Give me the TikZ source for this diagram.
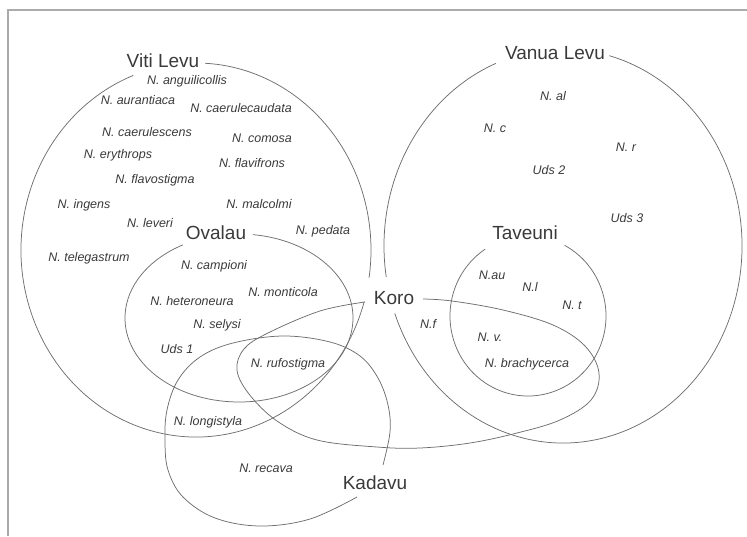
\documentclass[tikz,border=0pt]{standalone}
\usepackage{fontspec}
\setmainfont{Liberation Sans}
\usepackage{xcolor}
\usepackage{tikz}
\definecolor{inkgray}{HTML}{3A3A3A}
\definecolor{linegray}{HTML}{6E6E6E}
\definecolor{framegray}{HTML}{ABABAB}
\begin{document}
\begin{tikzpicture}[x=1pt,y=1pt,yscale=-1,
	island/.style={font=\fontsize{19}{19}\selectfont,text=inkgray,inner sep=0pt,text height=14pt,text depth=0pt},
	species/.style={font=\fontsize{12.5}{13}\selectfont\itshape,text=inkgray,inner sep=0pt,text height=9pt,text depth=0pt},
	venn/.style={draw=linegray,line width=0.75pt}]
				\useasboundingbox (0,0) rectangle (747,536);
				\draw[framegray,line width=1.3pt] (8,536) -- (8,10) -- (747,10);
				\node[island] (vitilevu) at (163,60) {Viti Levu};
				\node[island] (vanualevu) at (555,52) {Vanua Levu};
				\node[island] (ovalau) at (216,232) {Ovalau};
				\node[island] (taveuni) at (525,232) {Taveuni};
				\node[island] (koro) at (394,297) {Koro};
				\node[island] (kadavu) at (375,482) {Kadavu};
				\draw[venn] (196,250) ++(-87:175 and 187) arc[start angle=-87,end angle=8.5,x radius=175,y radius=187];
				\draw[venn] (196,250) ++(16:175 and 187) arc[start angle=16,end angle=249,x radius=175,y radius=187];
				\draw[venn] (563,246) ++(-75:179 and 197) arc[start angle=-75,end angle=160,x radius=179,y radius=197];
				\draw[venn] (563,246) ++(171:179 and 197) arc[start angle=171,end angle=248,x radius=179,y radius=197];
				\draw[venn] (239,318) ++(-83:114 and 84) arc[start angle=-83,end angle=240.5,x radius=114,y radius=84];
				\draw[venn] (528,316) ++(-62:78 and 80) arc[start angle=-62,end angle=236.7,x radius=78,y radius=80];
				\draw[venn] plot[smooth,tension=0.6] coordinates {(423,299) (452,301) (503,310) (553,325) (585,346) (599,373) (591,400) (560,420) (517,433) (470,443) (420,448) (377,447) (317,440) (277,421) (249,394) (237,370) (244,349) (268,333) (320,311) (365,302)};
				\draw[venn] plot[smooth,tension=0.6] coordinates {(383,465) (390,432) (388,405) (378,378) (360,356) (330,342) (283,336) (233,343) (200,357) (178,380) (167,410) (165,440) (168,470) (183,497) (215,518) (260,526) (310,519) (357,497)};
				\foreach \x/\y/\sp [count=\i] in {187/80/N. anguilicollis, 138/100/N. aurantiaca, 241/108/N. caerulecaudata, 147/132/N. caerulescens, 262/138/N. comosa, 118/154/N. erythrops, 252/163/N. flavifrons, 155/179/N. flavostigma, 84/204/N. ingens, 259/204/N. malcolmi, 150/223/N. leveri, 323/230/N. pedata, 89/257/N. telegastrum, 214/265/N. campioni, 192/301/N. heteroneura, 283/292/N. monticola, 217/324/N. selysi, 177/349/Uds 1, 288/363/N. rufostigma, 208/421/N. longistyla, 266/468/N. recava}
				\node[species] (vl\i) at (\x,\y) {\sp};
				\foreach \x/\y/\sp [count=\i] in {553/96/N. al, 495/128/N. c, 626/147/N. r, 549/170/Uds 2, 627/218/Uds 3, 492/275/N.au, 530/287/N.l, 572/305/N. t, 428/324/N.f, 490/337/N. v., 527/363/N. brachycerca}
				\node[species] (ev\i) at (\x,\y) {\sp};
\end{tikzpicture}
\end{document}
